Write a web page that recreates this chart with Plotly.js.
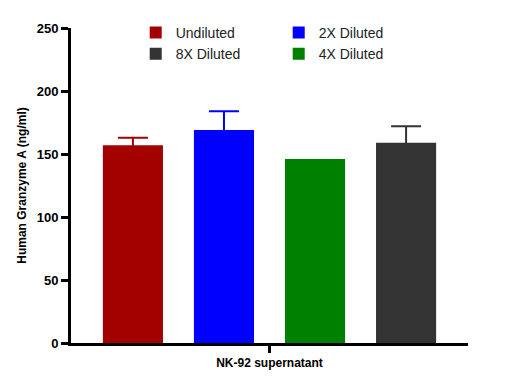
<!DOCTYPE html>
<html>
<head>
<meta charset="utf-8">
<script src="https://cdn.plot.ly/plotly-3.0.1.min.js"></script>
<style>html,body{margin:0;padding:0;background:#fff;}#chart{width:512px;height:389px;}</style>
</head>
<body>
<div id="chart"></div>
<script>
// Bar order along the axis
const categories = ["Undiluted", "2X Diluted", "4X Diluted", "8X Diluted"];
// Legend order (row-major, two columns)
const legendOrder = ["Undiluted", "2X Diluted", "8X Diluted", "4X Diluted"];
const means = {"Undiluted": 157, "2X Diluted": 169, "4X Diluted": 146, "8X Diluted": 159};
const errors = {"Undiluted": 5.8, "2X Diluted": 15, "4X Diluted": 0, "8X Diluted": 13};
const colors = {"Undiluted": "#a30000", "2X Diluted": "#0000ff", "4X Diluted": "#008000", "8X Diluted": "#333333"};
const groupLabel = "NK-92 supernatant";
const yTitle = "Human Granzyme A (ng/ml)";

const FONT = "Arial, 'Liberation Sans', sans-serif";

const traces = legendOrder.map(name => ({
  type: "bar",
  name: name,
  x: [name],
  y: [means[name]],
  width: 0.66,
  marker: {color: colors[name], line: {width: 0}},
  // symmetric SEM bars: the lower half lies inside the bar in the same colour
  error_y: {type: "data", array: [errors[name]], symmetric: true,
            color: colors[name], thickness: 2, width: 15, visible: errors[name] > 0},
  hoverinfo: "none"
}));

const layout = {
  width: 512, height: 389,
  margin: {l: 71, r: 44, t: 28, b: 46},
  paper_bgcolor: "#fff", plot_bgcolor: "#fff",
  font: {family: FONT, color: "#000"},
  barmode: "overlay",
  showlegend: true,
  legend: {
    orientation: "h", x: 0.163, xanchor: "left", y: 1.035, yanchor: "top",
    entrywidth: 98, entrywidthmode: "pixels",
    font: {family: FONT, size: 14, color: "#222"},
    traceorder: "normal", bgcolor: "rgba(0,0,0,0)"
  },
  xaxis: {
    type: "category", categoryorder: "array", categoryarray: categories,
    range: [-0.68, 3.68],
    showline: true, linewidth: 3, linecolor: "#000",
    ticks: "outside", ticklen: 7, tickwidth: 3, tickcolor: "#000",
    tickmode: "array", tickvals: [1.5], ticktext: [groupLabel],
    tickfont: {family: FONT, size: 12, color: "#000", weight: "bold"},
    showgrid: false, zeroline: false, fixedrange: true
  },
  yaxis: {
    range: [0, 250], dtick: 50, tick0: 0,
    showline: true, linewidth: 3, linecolor: "#000",
    ticks: "outside", ticklen: 7, tickwidth: 3, tickcolor: "#000",
    tickfont: {family: FONT, size: 13, color: "#000", weight: "bold"},
    showgrid: false, zeroline: false, fixedrange: true,
    title: {text: yTitle, font: {family: FONT, size: 12, color: "#000", weight: "bold"}, standoff: 8}
  }
};

Plotly.newPlot("chart", traces, layout, {displayModeBar: false, staticPlot: true});
</script>
</body>
</html>
